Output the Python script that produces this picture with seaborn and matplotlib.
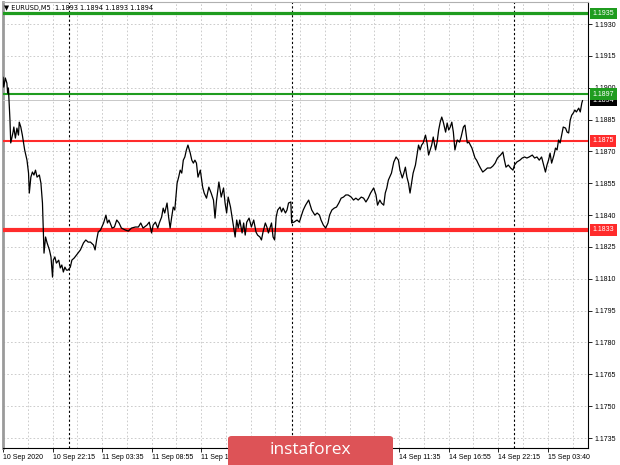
import numpy as np
import pandas as pd
import matplotlib
matplotlib.use("Agg")
import matplotlib.pyplot as plt
import seaborn as sns
from matplotlib.patches import FancyBboxPatch
from matplotlib.transforms import blended_transform_factory

# ---------------- data ----------------
bars = [0, 1, 3, 5, 6, 7, 8, 9, 10, 13, 14, 16, 18, 20, 21, 23, 25, 26, 28, 31,
        33, 34, 36, 38, 40, 42, 44, 47, 49, 51, 52, 53, 55, 57, 60, 62, 64, 65, 67, 69,
        72, 74, 76, 78, 80, 82, 84, 87, 89, 92, 95, 100, 104, 107, 110, 113, 117, 119, 121, 123,
        126, 130, 133, 135, 137, 141, 144, 147, 150, 153, 158, 162, 166, 171, 175, 178, 181, 186, 189, 192,
        194, 197, 200, 202, 205, 207, 209, 212, 214, 216, 218, 220, 222, 225, 227, 229, 231, 233, 235, 237,
        239, 242, 244, 246, 248,
        250, 252, 255, 258, 260, 263, 266, 269, 272, 274, 276, 279, 282, 285, 287, 289, 291, 294, 296, 298,
        300, 302, 304, 306, 309, 311, 313, 315, 318, 321, 324, 327, 329, 332, 334, 336, 339, 341, 343, 345,
        347, 349, 351, 353, 355, 358, 360, 362, 365, 367, 369, 372,
        373, 376, 380, 383, 385, 388, 391, 395, 397, 399, 403, 406, 409, 411, 414, 417, 420, 422, 425, 428,
        431, 434, 437, 440, 443, 446, 450, 453, 456, 459, 463, 466, 469, 472, 475, 479, 482, 484, 487, 489,
        492, 494, 496, 498, 502,
        505, 508, 511, 513, 516, 518, 520, 522, 524, 526, 528, 530, 533, 535, 537, 539, 541, 543, 546, 548,
        550, 552, 554, 556, 559, 561, 563, 565, 567, 569, 572, 574, 576, 578, 580, 582, 584, 587, 590, 592,
        595, 597, 600, 602, 604, 606, 608, 610, 612, 615, 617, 620, 623, 626, 630, 633, 636, 639, 643, 646,
        648, 650, 653, 656, 659, 661, 664, 668, 671, 674, 677, 680, 684, 687, 690, 693, 696, 698, 701, 703,
        705, 707, 709, 712, 714, 716, 718, 720, 722, 724, 727, 729, 731, 733, 735, 737, 739, 741, 744, 746,
        748, 749]

close_pips = [11905.0, 11900.3, 11904.6, 11902.2, 11897.5, 11899.9, 11892.8, 11884.8, 11874.0, 11879.1,
              11881.5, 11876.3, 11881.0, 11877.7, 11883.8, 11881.5, 11877.7, 11875.4, 11870.7, 11865.9,
              11859.8, 11850.4, 11857.9, 11860.3, 11858.9, 11861.2, 11857.9, 11858.9, 11855.1, 11845.7,
              11834.4, 11822.1, 11829.7, 11826.9, 11823.6, 11820.3, 11810.8, 11818.8, 11820.3, 11817.4,
              11818.8, 11815.1, 11816.5, 11813.2, 11815.5, 11814.1, 11814.1, 11815.5, 11818.8, 11819.8,
              11821.2, 11823.6, 11826.9, 11828.3, 11827.3, 11827.3, 11825.9, 11823.6, 11828.3, 11832.0,
              11833.0, 11836.3, 11840.0, 11836.3, 11837.7, 11833.9, 11834.4, 11837.7, 11836.3, 11833.9,
              11833.0, 11832.5, 11833.9, 11834.4, 11834.4, 11836.3, 11833.9, 11835.3, 11836.7, 11831.6,
              11835.3, 11836.7, 11833.9, 11836.3, 11839.1, 11843.3, 11841.0, 11845.7, 11839.1, 11833.9,
              11839.1, 11843.8, 11842.4, 11855.1, 11857.9, 11861.2, 11859.8, 11865.9, 11867.4, 11870.7,
              11873.0, 11869.2, 11865.9, 11864.5, 11865.9,
              11864.5, 11857.9, 11861.2, 11853.2, 11850.4, 11848.0, 11853.2, 11850.4, 11847.1, 11838.6,
              11847.1, 11855.6, 11848.5, 11852.8, 11845.7, 11841.0, 11848.5, 11843.8, 11839.1, 11834.4,
              11829.7, 11837.7, 11833.9, 11837.7, 11831.6, 11836.3, 11830.6, 11836.7, 11838.6, 11834.4,
              11837.7, 11832.0, 11830.6, 11829.7, 11828.3, 11832.0, 11836.3, 11834.4, 11831.6, 11833.9,
              11836.3, 11829.7, 11828.3, 11839.1, 11842.4, 11843.8, 11841.5, 11843.3, 11841.0, 11842.4,
              11845.7, 11846.2,
              11836.3, 11836.7, 11837.7, 11836.7, 11839.1, 11842.4, 11844.7, 11847.1, 11844.7, 11842.4,
              11840.0, 11841.0, 11840.0, 11837.7, 11835.3, 11833.9, 11836.3, 11840.0, 11842.4, 11843.3,
              11843.8, 11845.7, 11848.0, 11848.5, 11849.5, 11849.5, 11848.5, 11847.1, 11848.0, 11847.1,
              11848.5, 11848.0, 11846.2, 11848.0, 11850.4, 11852.8, 11849.5, 11844.7, 11847.1, 11845.7,
              11844.7, 11850.4, 11852.8, 11856.5, 11859.8,
              11865.0, 11867.4, 11865.9, 11861.2, 11857.5, 11859.8, 11862.6, 11857.9, 11855.1, 11850.4,
              11855.1, 11859.8, 11863.6, 11868.3, 11873.0, 11870.7, 11873.0, 11874.0, 11877.7, 11874.0,
              11868.3, 11870.7, 11873.0, 11876.8, 11870.7, 11874.4, 11880.1, 11883.8, 11886.2, 11883.8,
              11879.1, 11883.4, 11880.1, 11881.5, 11883.8, 11879.1, 11870.7, 11875.4, 11874.4, 11876.8,
              11881.5, 11882.4, 11874.0, 11874.4, 11873.0, 11871.6, 11869.2, 11866.9, 11865.9, 11863.6,
              11862.2, 11860.3, 11861.2, 11862.2, 11862.2, 11863.1, 11864.5, 11866.9, 11868.3, 11869.7,
              11865.9, 11862.6, 11863.6, 11862.2, 11861.2, 11863.6, 11865.0, 11865.9, 11866.9, 11867.4,
              11866.9, 11867.4, 11868.3, 11866.9, 11867.4, 11865.9, 11867.4, 11864.5, 11860.3, 11863.6,
              11865.9, 11869.2, 11864.5, 11868.3, 11871.6, 11870.7, 11875.4, 11874.0, 11877.7, 11881.5,
              11881.0, 11879.1, 11878.7, 11884.8, 11887.1, 11888.1, 11889.5, 11888.6, 11890.4, 11888.6,
              11892.8, 11894.0]

tick_bars = [0, 64, 128, 192, 256, 320, 384, 448, 512, 576, 640, 704]
tick_labels = ["10 Sep 2020", "10 Sep 22:15", "11 Sep 03:35", "11 Sep 08:55",
               "11 Sep 14:15", "11 Sep 19:35", "14 Sep 00:55", "14 Sep 06:15",
               "14 Sep 11:35", "14 Sep 16:55", "14 Sep 22:15", "15 Sep 03:40"]
day_separators = [85, 373, 661]
y_ticks = [1.1735, 1.1750, 1.1765, 1.1780, 1.1795, 1.1810, 1.1825, 1.1840,
           1.1855, 1.1870, 1.1885, 1.1900, 1.1915, 1.1930]

level_values = [1.1935, 1.1894, 1.1897, 1.1875, 1.1833]
level_labels = ["1.1935", "1.1894", "1.1897", "1.1875", "1.1833"]
level_colors = ["#1f9c1f", "#c8c8c8", "#1f9c1f", "#ff2b2b", "#ff2b2b"]
level_box_colors = ["#1f9c1f", "#000000", "#1f9c1f", "#ff2b2b", "#ff2b2b"]
level_widths = [2.3, 0.7, 1.5, 1.5, 3.0]

title_text = "\u25bc EURUSD,M5  1.1893 1.1894 1.1893 1.1894"
watermark_text = "instaforex"

# ---------------- figure ----------------
sns.set_style("white")
plt.rcParams["font.family"] = ["Liberation Sans", "DejaVu Sans"]

W, H = 620, 465
fig = plt.figure(figsize=(W / 100, H / 100), dpi=100)
ax = fig.add_axes([3 / W, (H - 448) / H, (588 - 3) / W, (448 - 2) / H])

df = pd.DataFrame({"bar": bars, "price": np.array(close_pips) / 1e4})
sns.lineplot(data=df, x="bar", y="price", ax=ax, color="black", linewidth=0.9,
             zorder=6, estimator=None)

ax.set_xlim(0, 756)
ax.set_ylim(1.17303, 1.19404)

# grid
grid_style = dict(color="#c4c4c4", linewidth=0.6, linestyle=(0, (2, 2.5)), zorder=1)
for gx in range(0, 757, 32):
    ax.axvline(gx, **grid_style)
for gy in y_ticks:
    ax.axhline(gy, **grid_style)
for dx in day_separators:
    ax.axvline(dx, color="black", linewidth=0.8, linestyle=(0, (2, 2)), zorder=2)

# level lines
for v, c, lw in zip(level_values, level_colors, level_widths):
    ax.axhline(v, color=c, linewidth=lw, zorder=4)

# axes styling
ax.set_xlabel("")
ax.set_ylabel("")
ax.yaxis.tick_right()
ax.set_yticks(y_ticks)
ax.set_yticklabels([f"{v:.4f}" for v in y_ticks])
ax.set_xticks(tick_bars)
ax.set_xticklabels(tick_labels)
for lab in ax.get_xticklabels():
    lab.set_ha("left")
ax.tick_params(axis="y", which="both", right=True, left=False, length=3, width=0.6,
               pad=2, labelsize=5, colors="black", direction="out")
ax.tick_params(axis="x", which="both", bottom=True, length=3, width=0.6,
               pad=1.5, labelsize=5, colors="black", direction="out")
for side in ["right", "bottom"]:
    ax.spines[side].set_color("black")
    ax.spines[side].set_linewidth(0.8)
ax.spines["left"].set_color("#9a9a9a")
ax.spines["left"].set_linewidth(2.0)
ax.spines["top"].set_color("#b0b0b0")
ax.spines["top"].set_linewidth(0.8)

# level labels on the right price scale
trans = blended_transform_factory(ax.transAxes, ax.transData)
for v, lab, bc in zip(level_values, level_labels, level_box_colors):
    ax.text(1.008, v, lab, transform=trans, fontsize=5, color="white", va="center",
            ha="left", zorder=10, clip_on=False,
            bbox=dict(boxstyle="square,pad=0.35", fc=bc, ec="none"))

# title
fig.text(4 / W, 1 - 8 / H, title_text, fontsize=4.8, color="black", va="center", ha="left",
         family=["DejaVu Sans", "Liberation Sans"])

# watermark
box = FancyBboxPatch((228 / W, -10 / H), 165 / W, 39 / H,
                     boxstyle="round,pad=0,rounding_size=0.006",
                     transform=fig.transFigure, fc="#dd5357", ec="none", zorder=20)
fig.patches.append(box)
fig.text(310 / W, 1 - 450 / H, watermark_text, fontsize=12.5, color="white",
         ha="center", va="center", family=["Open Sans", "DejaVu Sans"], zorder=21)

fig.savefig("out.png", dpi=100)
